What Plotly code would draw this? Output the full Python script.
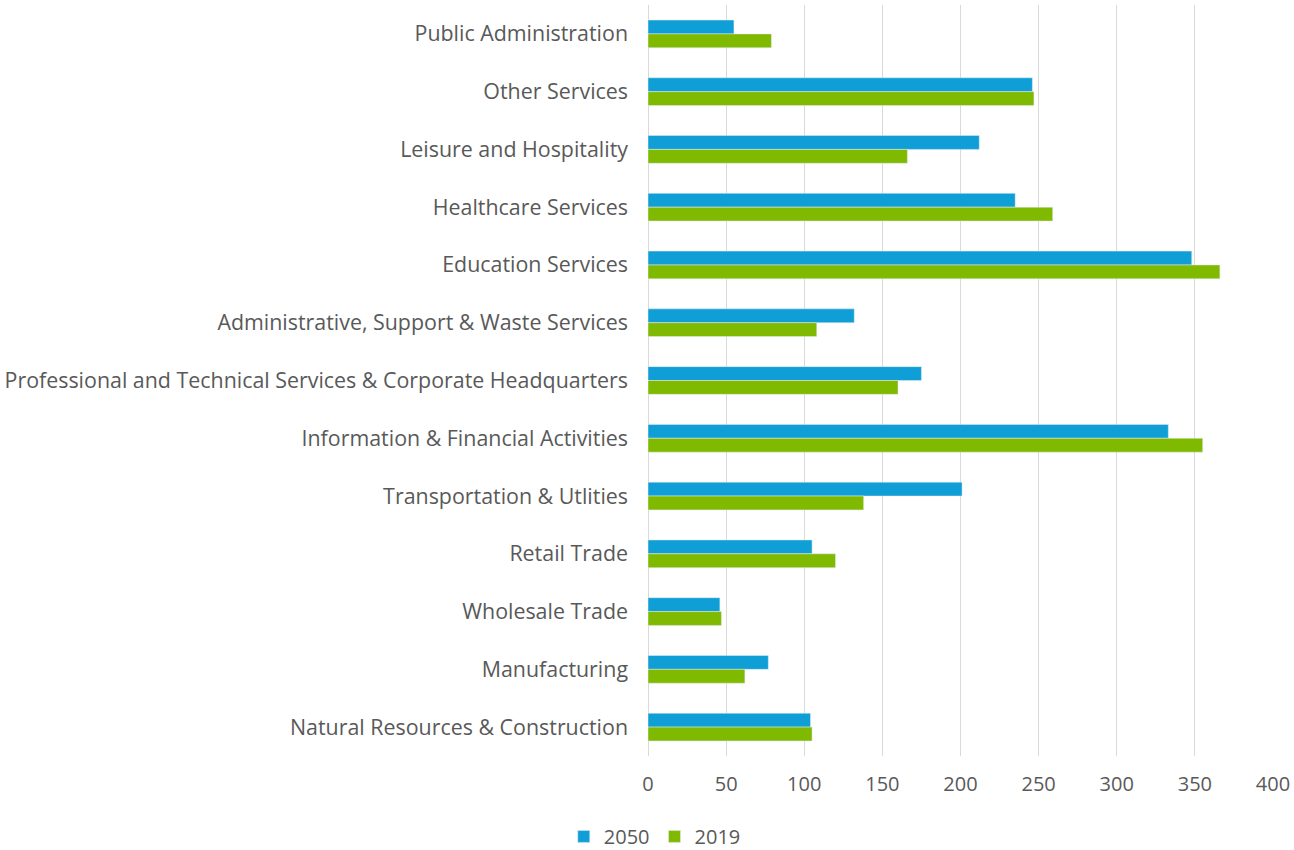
import plotly.graph_objects as go

categories = [
    "Public Administration",
    "Other Services",
    "Leisure and Hospitality",
    "Healthcare Services",
    "Education Services",
    "Administrative, Support & Waste Services",
    "Professional and Technical Services & Corporate Headquarters",
    "Information & Financial Activities",
    "Transportation & Utlities",
    "Retail Trade",
    "Wholesale Trade",
    "Manufacturing",
    "Natural Resources & Construction",
]
values_2050 = [55, 246, 212, 235, 348, 132, 175, 333, 201, 105, 46, 77, 104]
values_2019 = [79, 247, 166, 259, 366, 108, 160, 355, 138, 120, 47, 62, 105]
x_ticks = [0, 50, 100, 150, 200, 250, 300, 350, 400]

FONT = "Open Sans, Lato, DejaVu Sans, sans-serif"
GRAY = "#595959"

fig = go.Figure()
fig.add_trace(go.Bar(y=categories, x=values_2050, name="2050", orientation="h",
                     marker=dict(color="#0F9ED5")))
fig.add_trace(go.Bar(y=categories, x=values_2019, name="2019", orientation="h",
                     marker=dict(color="#7FBA00")))

fig.update_layout(
    width=1294, height=850,
    barmode="group", bargap=0.52, bargroupgap=0,
    plot_bgcolor="white", paper_bgcolor="white",
    margin=dict(l=648, r=21, t=5, b=94),
    font=dict(family=FONT, color=GRAY, size=20),
    showlegend=True,
    legend=dict(orientation="h", xref="container", yref="container",
                x=0.506, xanchor="center", y=0.016, yanchor="middle",
                font=dict(size=20, color=GRAY), itemwidth=30,
                traceorder="normal"),
)
fig.update_xaxes(range=[0, 400], tickvals=x_ticks, showgrid=True, gridcolor="#D9D9D9",
                 gridwidth=1.3, zeroline=True, zerolinecolor="#D9D9D9", zerolinewidth=1.3,
                 showline=False, ticks="", ticklabelstandoff=14,
                 tickfont=dict(size=20, color=GRAY))
fig.update_yaxes(autorange="reversed", showgrid=False, showline=False, ticks="",
                 ticklabelstandoff=19, tickfont=dict(size=21.4, color=GRAY))

fig.write_html("out.html", config={"displayModeBar": False},
               post_script="document.body.style.margin='0px';document.body.style.overflow='hidden';")
